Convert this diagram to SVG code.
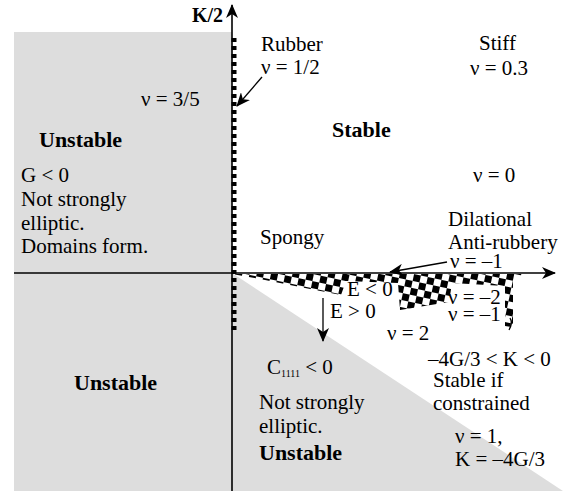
<svg xmlns="http://www.w3.org/2000/svg" width="566" height="491" viewBox="0 0 566 491">
<style>
text{font-family:"Liberation Serif","Times New Roman",serif;font-size:21px;fill:#000}
.b{font-weight:bold;font-size:22px}
.ax{stroke:#000;stroke-width:1.6;fill:none}
.ar{stroke:#000;stroke-width:1.3;fill:none}
</style>
<defs>
<marker id="ah" markerWidth="14" markerHeight="12" refX="13" refY="6" orient="auto" markerUnits="userSpaceOnUse">
<path d="M0,0 L14,6 L0,12 L4,6 Z" fill="#000"/>
</marker>
<pattern id="chk" patternUnits="userSpaceOnUse" width="14" height="14" patternTransform="rotate(12)">
<rect x="0" y="0" width="7" height="7" fill="#000"/>
<rect x="7" y="7" width="7" height="7" fill="#000"/>
</pattern>
</defs>

<g id="regions">
<rect id="left-unstable" x="14" y="32" width="218" height="459" fill="#dddddd"/>
<polygon id="lower-unstable" points="232,273 566,493 232,493" fill="#dddddd"/>
<polygon id="checker" points="232,274 522,274 518,279 513,280 513,327 505,326 505,286 452,283 449,302 400,310 398,283 346,281 341,295 300,287 260,279" fill="url(#chk)"/>
</g>

<g id="connectors">
<line class="ax" x1="14" y1="273" x2="555" y2="273" marker-end="url(#ah)"/>
<line class="ax" x1="232" y1="491" x2="232" y2="5" marker-end="url(#ah)"/>
<line x1="234" y1="38" x2="234" y2="334" stroke="#000" stroke-width="5" stroke-dasharray="4 4"/>
<line class="ar" x1="262" y1="77" x2="237" y2="106" marker-end="url(#ah)"/>
<line class="ar" x1="447" y1="262" x2="390" y2="272" marker-end="url(#ah)"/>
<line class="ar" x1="323" y1="298" x2="323" y2="341" marker-end="url(#ah)"/>
<path class="ar" d="M510,318 Q513,323 509,330"/>
</g>

<g id="axis-label"><text class="b" x="192" y="22" style="font-size:20px">K/2</text></g>
<g id="rubber"><text x="261" y="51">Rubber</text><text x="261" y="74">ν = 1/2</text></g>
<g id="stiff"><text x="479" y="50">Stiff</text><text x="470" y="75">ν = 0.3</text></g>
<g id="nu35"><text x="141" y="106">ν = 3/5</text></g>
<g id="stable"><text class="b" x="332" y="137">Stable</text></g>
<g id="nu0"><text x="473" y="182">ν = 0</text></g>
<g id="unstable-left-top">
<text class="b" x="39" y="147">Unstable</text>
<text x="21" y="182">G &lt; 0</text>
<text x="21" y="206">Not strongly</text>
<text x="21" y="230">elliptic.</text>
<text x="21" y="253">Domains form.</text>
</g>
<g id="spongy"><text x="260" y="244">Spongy</text></g>
<g id="dilational"><text x="448" y="226">Dilational</text><text x="448" y="249">Anti-rubbery</text><text x="450" y="268">ν = –1</text></g>
<g id="e-signs"><text x="347" y="296">E &lt; 0</text><text x="330" y="318">E &gt; 0</text></g>
<g id="nu-neg"><text x="448" y="304">ν = –2</text><text x="448" y="321">ν = –1</text></g>
<g id="nu2"><text x="387" y="340">ν = 2</text></g>
<g id="unstable-left-bottom"><text class="b" x="74" y="390">Unstable</text></g>
<g id="neg-k">
<text x="428" y="366">–4G/3 &lt; K &lt; 0</text>
<text x="433" y="387">Stable if</text>
<text x="433" y="410">constrained</text>
</g>
<g id="c1111">
<text x="267" y="374">C<tspan font-size="10" dy="3">1111</tspan><tspan dy="-3"> &lt; 0</tspan></text>
<text x="259" y="409">Not strongly</text>
<text x="259" y="433">elliptic.</text>
<text class="b" x="259" y="460">Unstable</text>
</g>
<g id="nu1"><text x="455" y="443">ν = 1,</text><text x="455" y="466">K = –4G/3</text></g>
</svg>
